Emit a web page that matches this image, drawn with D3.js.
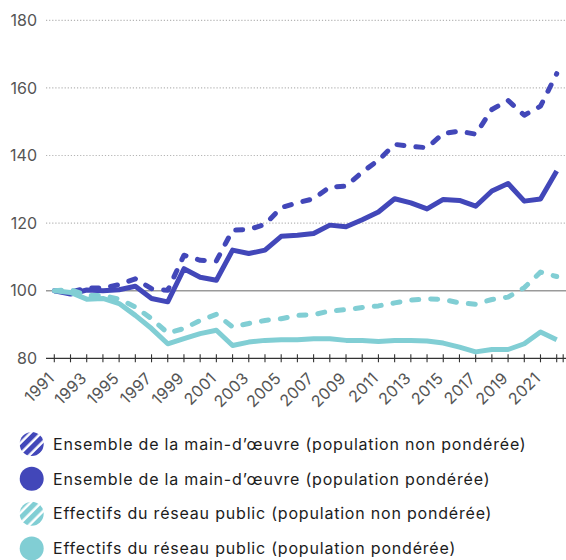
<!DOCTYPE html>
<html lang="fr">
<head>
  <meta charset="UTF-8" />
  <title>Main-d'œuvre et réseau public</title>
  <style>
    body { margin: 0; background: #fff; }
    svg { display: block; font-family: Inter, "Noto Sans", sans-serif; }
  </style>
</head>
<body>
  <div id="chart"></div>

  <script src="https://cdn.jsdelivr.net/npm/d3@7"></script>
  <script>
    // Data (index, 1991 = 100)
    const years = d3.range(1991, 2023);

    const labourUnweighted = [100, 99.6, 100.8, 100.8, 101.8, 103.5, 100.6, 100.1, 110.5, 109, 108.8, 117.9,
      118.1, 119.6, 124.6, 126, 127.2, 130.7, 130.9, 135.1, 138.6, 143.3, 142.7, 142.3, 146.5, 147.2,
      146.3, 153.6, 156.3, 151.9, 154.6, 164.2];
    const labourWeighted = [100, 99, 100.2, 100, 100.3, 101.3, 97.7, 96.7, 106.5, 104, 103.1, 112,
      111, 112, 116.1, 116.4, 116.9, 119.4, 118.9, 121, 123.3, 127.2, 126, 124.2, 127, 126.7,
      125, 129.5, 131.7, 126.5, 127.1, 135.4];
    const publicUnweighted = [100, 100.3, 98.6, 98.6, 97.5, 95.2, 91.7, 87.5, 88.8, 91.2, 93, 89.3,
      90.3, 91.2, 91.7, 92.7, 92.9, 94, 94.4, 95, 95.5, 96.4, 97.2, 97.6, 97.4, 96.4,
      96, 97.4, 98.1, 100.9, 105.5, 104.2];
    const publicWeighted = [100, 99.5, 97.5, 97.7, 96.2, 92.7, 88.8, 84.3, 85.8, 87.3, 88.3, 83.8,
      84.8, 85.3, 85.5, 85.5, 85.8, 85.8, 85.3, 85.3, 85, 85.3, 85.3, 85.1, 84.5, 83.3,
      81.9, 82.6, 82.6, 84.3, 87.8, 85.5];

    const yTicks = [80, 100, 120, 140, 160, 180];
    const xTickLabels = d3.range(1991, 2022, 2);

    const legendLabels = [
      "Ensemble de la main-d’œuvre (population non pondérée)",
      "Ensemble de la main-d’œuvre (population pondérée)",
      "Effectifs du réseau public (population non pondérée)",
      "Effectifs du réseau public (population pondérée)"
    ];

    const blue = "#4247b9";
    const teal = "#81ced4";

    // series drawn in this order (teal on top, like the original)
    const series = [
      { values: labourWeighted, color: blue, dashed: false },
      { values: labourUnweighted, color: blue, dashed: true },
      { values: publicWeighted, color: teal, dashed: false },
      { values: publicUnweighted, color: teal, dashed: true }
    ];
    const legendItems = [
      { label: legendLabels[0], color: blue, striped: true },
      { label: legendLabels[1], color: blue, striped: false },
      { label: legendLabels[2], color: teal, striped: true },
      { label: legendLabels[3], color: teal, striped: false }
    ];

    const width = 566, height = 560;
    const svg = d3.select("#chart").append("svg")
      .attr("width", width)
      .attr("height", height);

    const x = d3.scaleLinear().domain([1991, 2022]).range([54.3, 556.7]);
    const y = d3.scaleLinear().domain([80, 180]).range([358.3, 20.3]);
    const plotLeft = 46, plotRight = width;

    // Horizontal grid lines (dotted), 100 line solid
    svg.append("g")
      .selectAll("line")
      .data(yTicks.filter(d => d > 80))
      .join("line")
      .attr("x1", plotLeft)
      .attr("x2", plotRight)
      .attr("y1", d => y(d))
      .attr("y2", d => y(d))
      .attr("stroke", d => d === 100 ? "#9a9a9a" : "#b5b5b5")
      .attr("stroke-width", d => d === 100 ? 1.4 : 1.2)
      .attr("stroke-dasharray", d => d === 100 ? null : "1.2,1.9");

    // Y tick labels
    svg.append("g")
      .selectAll("text")
      .data(yTicks)
      .join("text")
      .attr("x", 37)
      .attr("y", d => y(d))
      .attr("dy", "0.36em")
      .attr("text-anchor", "end")
      .attr("fill", "#555")
      .attr("font-size", 16)
      .text(d => d);

    // X axis line and ticks
    const axis = svg.append("g");
    axis.append("line")
      .attr("x1", plotLeft).attr("x2", plotRight)
      .attr("y1", y(80)).attr("y2", y(80))
      .attr("stroke", "#333").attr("stroke-width", 1.2);
    axis.selectAll("line.tick")
      .data(years.concat([2022.4]))
      .join("line")
      .attr("class", "tick")
      .attr("x1", d => x(d)).attr("x2", d => x(d))
      .attr("y1", y(80) - 4).attr("y2", y(80) + 4)
      .attr("stroke", "#333").attr("stroke-width", 1.1);

    axis.selectAll("text")
      .data(xTickLabels)
      .join("text")
      .attr("transform", d => `translate(${x(d) + 1},${y(80) + 21}) rotate(-45)`)
      .attr("text-anchor", "end")
      .attr("fill", "#555")
      .attr("font-size", 16)
      .attr("letter-spacing", 0.3)
      .text(d => d);

    // Lines
    const line = d3.line()
      .x((d, i) => x(years[i]))
      .y(d => y(d));

    svg.append("g")
      .selectAll("path")
      .data(series)
      .join("path")
      .attr("d", d => line(d.values))
      .attr("fill", "none")
      .attr("stroke", d => d.color)
      .attr("stroke-width", 5)
      .attr("stroke-linejoin", "round")
      .attr("stroke-linecap", d => d.dashed ? "round" : "butt")
      .attr("stroke-dasharray", d => d.dashed ? "7,12" : null);

    // Striped patterns for the legend
    const defs = svg.append("defs");
    [blue, teal].forEach((c, i) => {
      const p = defs.append("pattern")
        .attr("id", "stripes" + i)
        .attr("patternUnits", "userSpaceOnUse")
        .attr("width", 7.5)
        .attr("height", 7.5)
        .attr("patternTransform", "rotate(45)");
      p.append("rect").attr("width", 7.5).attr("height", 7.5).attr("fill", c);
      p.append("rect").attr("x", 5).attr("width", 2.5).attr("height", 7.5).attr("fill", "#fff");
    });

    // Legend
    const legendY = d3.scalePoint().domain(d3.range(4)).range([444, 548.5]);
    const legend = svg.append("g")
      .selectAll("g")
      .data(legendItems)
      .join("g")
      .attr("transform", (d, i) => `translate(0,${legendY(i)})`);

    legend.append("circle")
      .attr("cx", 31.7)
      .attr("r", 12)
      .attr("fill", d => d.striped ? `url(#stripes${d.color === blue ? 0 : 1})` : d.color);

    legend.append("text")
      .attr("x", 53)
      .attr("dy", "0.36em")
      .attr("fill", "#1c1c1c")
      .attr("font-size", 16)
      .attr("letter-spacing", 0.8)
      .text(d => d.label);
  </script>
</body>
</html>
